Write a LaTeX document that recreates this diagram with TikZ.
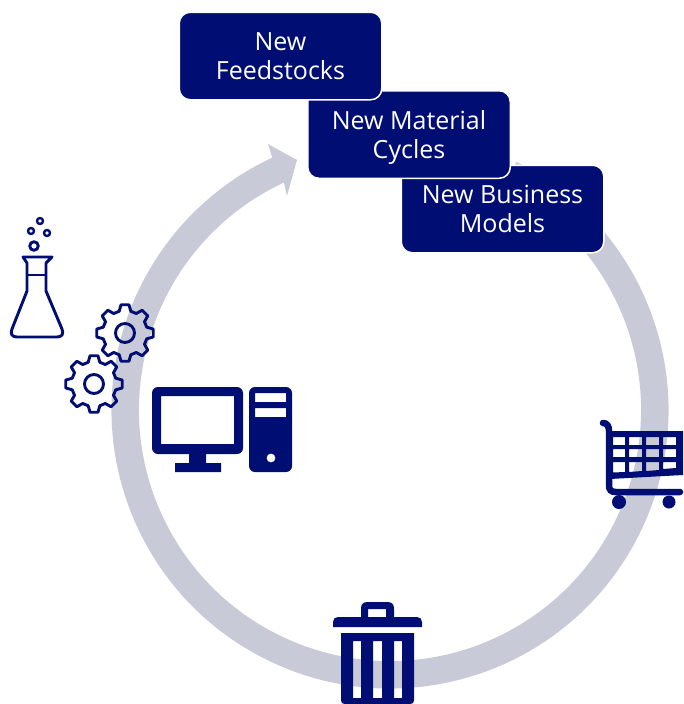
\documentclass[tikz,border=0pt]{standalone}
\usepackage{fontspec}
\setmainfont{Open Sans}
\usetikzlibrary{positioning}
\definecolor{navy}{RGB}{0,13,115}
\definecolor{ringgrey}{RGB}{201,202,215}
\newcommand{\boxw}{202.5pt}
\newcommand{\boxh}{87.5pt}
\tikzset{
    StageBox/.style = {fill=navy, draw=white, line width=1.5pt, rounded corners=11pt, text=white,
        minimum width=\boxw, minimum height=\boxh, align=center, inner sep=0pt,
        font=\fontsize{25}{29}\selectfont},
    IconLine/.style = {draw=navy, line width=2.9pt, line join=round},
    IconFill/.style = {fill=navy, even odd rule}
}
\begin{document}
\begin{tikzpicture}[x=1pt,y=1pt]
    \useasboundingbox (0,-704) rectangle (683,0);

    % ring
    \coordinate (ringc) at (390,-410);
    \fill[ringgrey] ([shift={(ringc)}]63:278.5) arc[start angle=63,end angle=-245,radius=278.5]
        -- (268,-144) -- (297,-160) -- (287,-196) -- ([shift={(ringc)}]115:251)
        arc[start angle=-245,end angle=63,radius=251] -- cycle;

    % flask
    \draw[IconLine] (23,-257) -- (52,-257) -- (46,-263) -- (46,-291) -- (62,-329)
        .. controls (64,-334) and (62,-337) .. (57,-337) -- (17,-337)
        .. controls (12,-337) and (10,-334) .. (12,-329) -- (27,-291) -- (27,-263) -- cycle;
    \draw[IconLine] (27,-275) -- (46,-275);
    \draw[IconLine] (34,-246) circle (4.3);
    \draw[IconLine, line width=2.4pt] (31,-231) circle (3);
    \draw[IconLine, line width=2.4pt] (47,-233) circle (3);
    \draw[IconLine, line width=2.4pt] (40,-221) circle (3);

    % gears
    \foreach \gx/\gy in {125/-333, 94/-384}{
        \draw[IconLine] (\gx,\gy) circle (9.5);
        \draw[IconLine] ([shift={(\gx,\gy)}]-8:28.5)
            \foreach \ang in {0,45,...,315}{
                -- ([shift={(\gx,\gy)}]\ang-8:28.5) -- ([shift={(\gx,\gy)}]\ang+8:28.5)
                -- ([shift={(\gx,\gy)}]\ang+15:22.5) -- ([shift={(\gx,\gy)}]\ang+30:22.5)
            } -- cycle;
    }

    % computer
    \fill[IconFill] [rounded corners=6pt] (152,-387) rectangle (243,-454)
        [sharp corners] (161,-396) rectangle (234,-444);
    \fill[navy] (189,-454) rectangle (206,-463) (175,-463) rectangle (221,-472);
    \fill[IconFill] [rounded corners=6pt] (249,-387) rectangle (292,-472)
        [sharp corners] (255,-393) rectangle (286,-402) (255,-408) rectangle (286,-417)
        (271,-458) circle (4.5);

    % cart
    \fill[IconFill] (608,-431) -- (683,-431) -- (683,-475) -- (610,-479) -- cycle
        (613,-437) rectangle (625,-445) (629,-437) rectangle (642,-445)
        (646,-437) rectangle (659,-445) (663,-437) rectangle (676,-445)
        (613,-449) rectangle (625,-457) (629,-449) rectangle (642,-457)
        (646,-449) rectangle (659,-457) (663,-449) rectangle (676,-457)
        (613,-462) -- (625,-462) -- (625,-472) -- (613,-472.5) -- cycle
        (629,-462) -- (642,-462) -- (642,-471) -- (629,-472) -- cycle
        (646,-462) -- (659,-462) -- (659,-470) -- (646,-471) -- cycle
        (663,-462) -- (676,-462) -- (676,-468) -- (663,-469) -- cycle;
    \draw[navy, line width=6.5pt, line cap=round] (603,-423) .. controls (607,-423) and (609,-426) .. (609,-431)
        -- (609,-485) .. controls (609,-490) and (611,-492) .. (616,-492) -- (680,-492);
    \fill[navy] (619,-502) circle (7) (669,-502) circle (6.5);

    % bin
    \fill[IconFill] (361,-617) -- (361,-609) .. controls (361,-604) and (363,-602) .. (368,-602)
        -- (387,-602) .. controls (392,-602) and (394,-604) .. (394,-609) -- (394,-617) -- cycle
        (368,-609) rectangle (386,-617);
    \fill[navy] (333,-627) -- (333,-622) .. controls (333,-619) and (335,-617) .. (338,-617)
        -- (417,-617) .. controls (420,-617) and (422,-619) .. (422,-622) -- (422,-627) -- cycle;
    \fill[IconFill] (341,-633) -- (414,-633) -- (414,-700) .. controls (414,-703) and (413,-704) .. (410,-704)
        -- (345,-704) .. controls (342,-704) and (341,-703) .. (341,-700) -- cycle
        (353,-641) rectangle (361,-698) (373,-641) rectangle (382,-698) (394,-641) rectangle (402,-698);

    % stages
    \node[StageBox] (business) at (502.5,-209) {New Business\\Models};
    \node[StageBox] (material) at (409,-134.5) {New Material\\\smash{Cycles}};
    \node[StageBox] (feedstocks) at (280.5,-56) {New\\Feedstocks};
\end{tikzpicture}
\end{document}
